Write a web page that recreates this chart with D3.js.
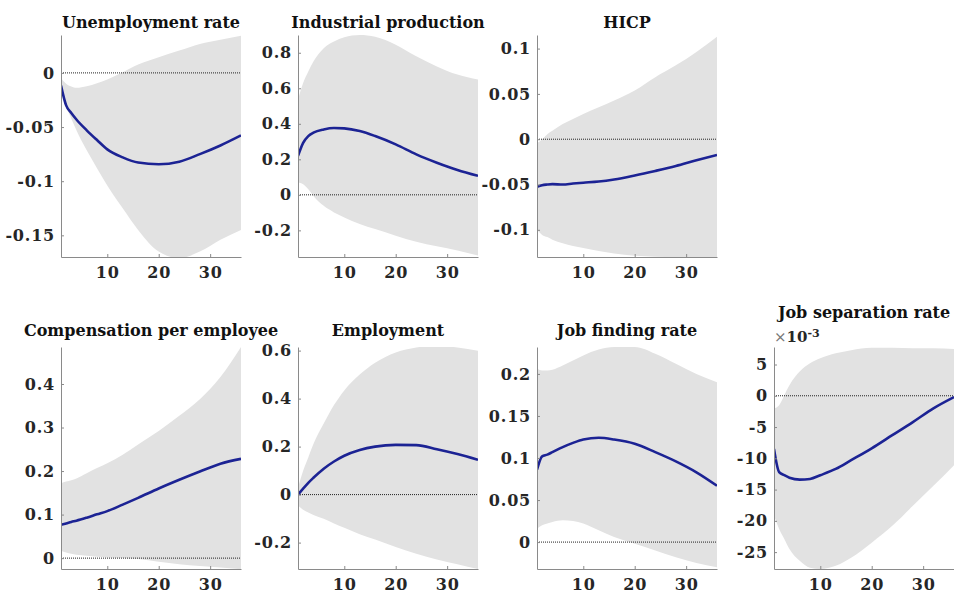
<!DOCTYPE html>
<html>
<head>
<meta charset="utf-8">
<script src="https://d3js.org/d3.v7.min.js"></script>
<style>
  body { margin: 0; background: #fff; }
  .tick text { font-family: "DejaVu Serif", serif; font-weight: bold; font-size: 16px; letter-spacing: 0.8px; fill: #262626; }
  .title { font-family: "DejaVu Serif", serif; font-weight: bold; font-size: 16px; fill: #111; }
</style>
</head>
<body>
<script>
const horizons = [1, 2, 3, 4, 6, 8, 10, 13, 16, 20, 24, 28, 32, 36];
const xTicks = [10, 20, 30];

const titles = ["Unemployment rate", "Industrial production", "HICP",
  "Compensation per employee", "Employment", "Job finding rate", "Job separation rate"];

// median responses
const unempMed = [-0.0117, -0.030, -0.037, -0.043, -0.053, -0.062, -0.0706, -0.078, -0.0828, -0.0844, -0.082, -0.075, -0.067, -0.0577];
const ipMed    = [0.219, 0.293, 0.331, 0.350, 0.368, 0.376, 0.374, 0.359, 0.331, 0.284, 0.228, 0.181, 0.140, 0.107];
const hicpMed  = [-0.0526, -0.0507, -0.050, -0.0496, -0.050, -0.0489, -0.048, -0.0467, -0.0444, -0.040, -0.035, -0.0296, -0.0233, -0.0174];
const compMed  = [0.0766, 0.0797, 0.083, 0.086, 0.093, 0.1006, 0.108, 0.123, 0.1385, 0.160, 0.18, 0.199, 0.217, 0.228];
const empMed   = [0, 0.025, 0.049, 0.070, 0.108, 0.138, 0.162, 0.186, 0.200, 0.207, 0.206, 0.189, 0.169, 0.145];
const jfrMed   = [0.086, 0.102, 0.104, 0.107, 0.113, 0.118, 0.122, 0.124, 0.122, 0.117, 0.107, 0.096, 0.083, 0.067];
const jsrMed   = [-8.5, -12.2, -12.7, -13.1, -13.4, -13.3, -12.7, -11.7, -10.3, -8.4, -6.3, -4.2, -2.0, -0.2];

// upper band
const unempHi = [-0.005, -0.010, -0.0126, -0.0138, -0.0123, -0.0095, -0.006, 0.0006, 0.0077, 0.0144, 0.0206, 0.0267, 0.0307, 0.0344];
const ipHi    = [0.536, 0.63, 0.695, 0.751, 0.826, 0.864, 0.888, 0.90, 0.89, 0.845, 0.78, 0.723, 0.677, 0.649];
const hicpHi  = [-0.0045, 0, 0.0056, 0.0093, 0.0167, 0.0222, 0.0278, 0.0352, 0.0426, 0.0537, 0.0685, 0.0815, 0.0963, 0.113];
const compHi  = [0.172, 0.176, 0.179, 0.183, 0.195, 0.207, 0.218, 0.2376, 0.261, 0.292, 0.327, 0.365, 0.416, 0.485];
const empHi   = [0.028, 0.099, 0.155, 0.211, 0.296, 0.373, 0.434, 0.50, 0.549, 0.592, 0.613, 0.62, 0.613, 0.599];
const jfrHi   = [0.206, 0.204, 0.204, 0.205, 0.21, 0.216, 0.222, 0.229, 0.232, 0.232, 0.224, 0.212, 0.20, 0.19];
const jsrHi   = [-2.0, -1.5, 0.1, 1.7, 3.9, 5.2, 6.0, 6.8, 7.3, 7.7, 7.7, 7.6, 7.6, 7.5];

// lower band
const unempLo = [-0.0147, -0.0316, -0.042, -0.053, -0.0715, -0.088, -0.104, -0.125, -0.145, -0.165, -0.171, -0.165, -0.154, -0.145];
const ipLo    = [0.069, 0.06, 0.032, -0.006, -0.062, -0.099, -0.127, -0.164, -0.193, -0.23, -0.264, -0.29, -0.314, -0.342];
const hicpLo  = [-0.100, -0.1056, -0.108, -0.111, -0.1148, -0.1178, -0.120, -0.1233, -0.126, -0.1285, -0.1296, -0.130, -0.1307, -0.131];
const compLo  = [0.017, 0.013, 0.010, 0.0077, 0.0054, 0.003, 0.0015, 0, -0.0023, -0.0085, -0.014, -0.018, -0.0217, -0.0255];
const empLo   = [-0.045, -0.063, -0.075, -0.085, -0.101, -0.12, -0.138, -0.165, -0.187, -0.218, -0.246, -0.27, -0.29, -0.31];
const jfrLo   = [0.016, 0.02, 0.022, 0.024, 0.026, 0.025, 0.022, 0.014, 0.006, -0.002, -0.01, -0.018, -0.025, -0.03];
const jsrLo   = [-19.2, -21.3, -22.9, -24.5, -26.4, -27.5, -27.7, -27.2, -25.9, -23.5, -20.8, -17.6, -14.4, -11.1];

// y axis ranges and tick labels per panel
const yDomains = [[-0.17, 0.035], [-0.35, 0.9], [-0.13, 0.115], [-0.025, 0.485], [-0.31, 0.615], [-0.032, 0.232], [-27.7, 7.8]];
const yTicks = [
  [-0.15, -0.1, -0.05, 0],
  [-0.2, 0, 0.2, 0.4, 0.6, 0.8],
  [-0.1, -0.05, 0, 0.05, 0.1],
  [0, 0.1, 0.2, 0.3, 0.4],
  [-0.2, 0, 0.2, 0.4, 0.6],
  [0, 0.05, 0.1, 0.15, 0.2],
  [-25, -20, -15, -10, -5, 0, 5]
];

const meds = [unempMed, ipMed, hicpMed, compMed, empMed, jfrMed, jsrMed];
const his = [unempHi, ipHi, hicpHi, compHi, empHi, jfrHi, jsrHi];
const los = [unempLo, ipLo, hicpLo, compLo, empLo, jfrLo, jsrLo];

const WIDTH = 954, HEIGHT = 594;
const svg = d3.select("body").append("svg").attr("width", WIDTH).attr("height", HEIGHT);

// layout: 4 columns, 2 rows (top row has 3 panels)
const colLeft = [61, 298, 537, 774];
const rowTop = [35, 347];
const pw = 180, ph = 222;
const spots = [[0, 0], [0, 1], [0, 2], [1, 0], [1, 1], [1, 2], [1, 3]];

const fmt = d => String(Math.round(d * 1000) / 1000);

titles.forEach((title, i) => {
  const [r, c] = spots[i];
  const g = svg.append("g").attr("transform", "translate(" + colLeft[c] + "," + rowTop[r] + ")");

  const x = d3.scaleLinear().domain([1, 36]).range([0, pw]);
  const y = d3.scaleLinear().domain(yDomains[i]).range([ph, 0]);

  const rows = horizons.map((h, k) => ({ h: h, m: meds[i][k], lo: los[i][k], hi: his[i][k] }));

  g.append("clipPath").attr("id", "clip" + i)
    .append("rect").attr("width", pw).attr("height", ph);

  const plot = g.append("g").attr("clip-path", "url(#clip" + i + ")");

  plot.append("path").datum(rows)
    .attr("d", d3.area().x(d => x(d.h)).y0(d => y(d.lo)).y1(d => y(d.hi)).curve(d3.curveMonotoneX))
    .attr("fill", "#e2e2e2");

  // zero reference line
  plot.append("line")
    .attr("x1", 0).attr("x2", pw)
    .attr("y1", y(0)).attr("y2", y(0))
    .attr("stroke", "#222").attr("stroke-width", 1).attr("stroke-dasharray", "1,1");

  plot.append("path").datum(rows)
    .attr("d", d3.line().x(d => x(d.h)).y(d => y(d.m)).curve(d3.curveMonotoneX))
    .attr("fill", "none").attr("stroke", "#1c2394").attr("stroke-width", 2.6);

  const xAxis = g.append("g").attr("transform", "translate(0," + ph + ")")
    .call(d3.axisBottom(x).tickValues(xTicks).tickSizeInner(-3).tickSizeOuter(0).tickPadding(10));
  const yAxis = g.append("g")
    .call(d3.axisLeft(y).tickValues(yTicks[i]).tickFormat(fmt).tickSizeInner(-3).tickSizeOuter(0).tickPadding(6));
  [xAxis, yAxis].forEach(a => {
    a.select(".domain").attr("stroke", "#8a8a8a");
    a.selectAll(".tick line").attr("stroke", "#8a8a8a");
  });

  const ty = (i === 6) ? -29 : (r === 0 ? -7 : -11);
  g.append("text").attr("class", "title")
    .attr("x", pw / 2).attr("y", ty)
    .attr("text-anchor", "middle")
    .text(title);

  if (i === 6) {
    const ex = g.append("text").attr("x", 0).attr("y", -5)
      .style("font-family", "DejaVu Serif, serif").style("font-weight", "bold").style("font-size", "15px").attr("fill", "#262626");
    ex.append("tspan").style("font-weight", "normal").attr("fill", "#777").text("\u00d7");
    ex.append("tspan").text("10");
    ex.append("tspan").attr("dy", -5).style("font-size", "11px").text("-3");
  }
});
</script>
</body>
</html>
